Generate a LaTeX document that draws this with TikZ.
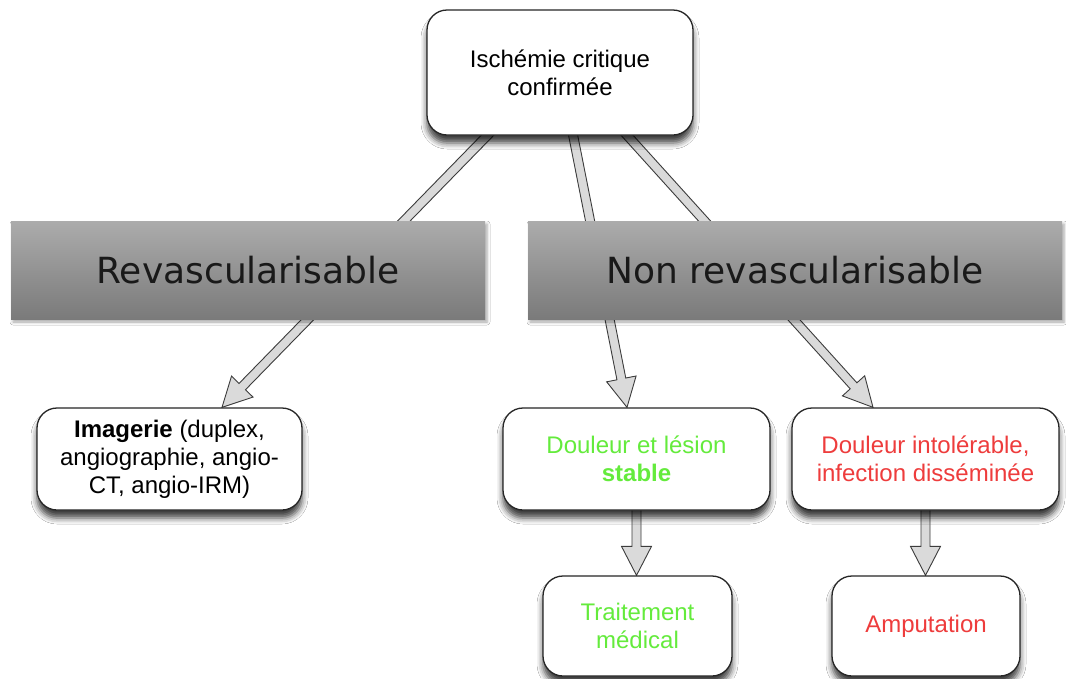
\documentclass[tikz,border=0pt]{standalone}
\usepackage{fontspec}
\setmainfont{Liberation Sans}
\newfontfamily\bannerfont{DejaVu Sans}
\usetikzlibrary{calc,shadows.blur,backgrounds}
\definecolor{txtgreen}{RGB}{100,235,60}
\definecolor{txtred}{RGB}{238,60,60}
\definecolor{bantop}{RGB}{172,172,172}
\definecolor{banbot}{RGB}{122,122,122}
\definecolor{arrfill}{RGB}{218,218,218}
\definecolor{arrline}{RGB}{60,60,60}
\tikzset{
  box/.style={draw=black!85, line width=1.3pt, fill=white, rounded corners=20pt,
    align=center, inner sep=0pt, font=\fontsize{24}{28}\selectfont,
    blur shadow={shadow xshift=0pt, shadow yshift=-8pt, shadow blur radius=6pt, shadow opacity=75}},
  banner/.style={top color=bantop, bottom color=banbot, inner sep=0pt,
    font=\bannerfont\fontsize{36}{40}\selectfont, text=black!90,
    blur shadow={shadow xshift=2pt, shadow yshift=-3pt, shadow blur radius=3pt, shadow opacity=35}},
  fatarrow/.style={fill=arrfill, draw=arrline, line width=0.9pt, line join=miter}
}
\newcommand{\fatarr}[2]{%
  \coordinate (hb) at ($(#2)!29pt!(#1)$);
  \draw[fatarrow] ($(#1)!4.5pt!90:(#2)$) -- ($(hb)!4.5pt!90:(#2)$) -- ($(hb)!15pt!90:(#2)$)
    -- (#2) -- ($(hb)!15pt!-90:(#2)$) -- ($(hb)!4.5pt!-90:(#2)$) -- ($(#1)!4.5pt!-90:(#2)$) -- cycle;
}
\begin{document}
\begin{tikzpicture}[x=1pt,y=-1pt]
\useasboundingbox (0,0) rectangle (1066,678);
% boxes
\node[box, minimum width=266pt, minimum height=125pt] (top) at (560,72.5) {Ischémie critique\\confirmée};
\node[banner, minimum width=474pt, minimum height=98pt] (rev) at (248,270) {Revascularisable};
\node[banner, minimum width=534pt, minimum height=98pt] (non) at (795,270) {Non revascularisable};
\node[box, minimum width=265pt, minimum height=102pt] (imag) at (169.5,459) {\textbf{Imagerie} (duplex,\\angiographie, angio-\\CT, angio-IRM)};
\node[box, minimum width=267pt, minimum height=102pt, text=txtgreen] (stab) at (636.5,459) {Douleur et lésion\\\textbf{stable}};
\node[box, minimum width=267pt, minimum height=102pt, text=txtred] (intol) at (925.5,459) {Douleur intolérable,\\infection disséminée};
\node[box, minimum width=189pt, minimum height=100pt, text=txtgreen] (trait) at (637.5,626) {Traitement\\médical};
\node[box, minimum width=188pt, minimum height=100pt, text=txtred] (amp) at (926,626) {Amputation};
% connector ends
\coordinate (s1) at ([xshift=-67pt,yshift=6pt]top.south);
\coordinate (t1) at ([xshift=52.5pt]imag.north);
\coordinate (s2) at ([xshift=12pt,yshift=6pt]top.south);
\coordinate (t2) at ([xshift=-9.5pt]stab.north);
\coordinate (s3) at ([xshift=62pt,yshift=6pt]top.south);
\coordinate (t3) at ([xshift=-52.5pt]intol.north);
\coordinate (s4) at ([yshift=4pt]stab.south);
\coordinate (t4) at (stab.south |- trait.north);
\coordinate (s5) at ([yshift=4pt]intol.south);
\coordinate (t5) at (intol.south |- amp.north);
\begin{scope}[on background layer]
\fill[white] (0,0) rectangle (1066,678);
\fatarr{s1}{t1}
\fatarr{s2}{t2}
\fatarr{s3}{t3}
\fatarr{s4}{t4}
\fatarr{s5}{t5}
\end{scope}
\end{tikzpicture}
\end{document}
